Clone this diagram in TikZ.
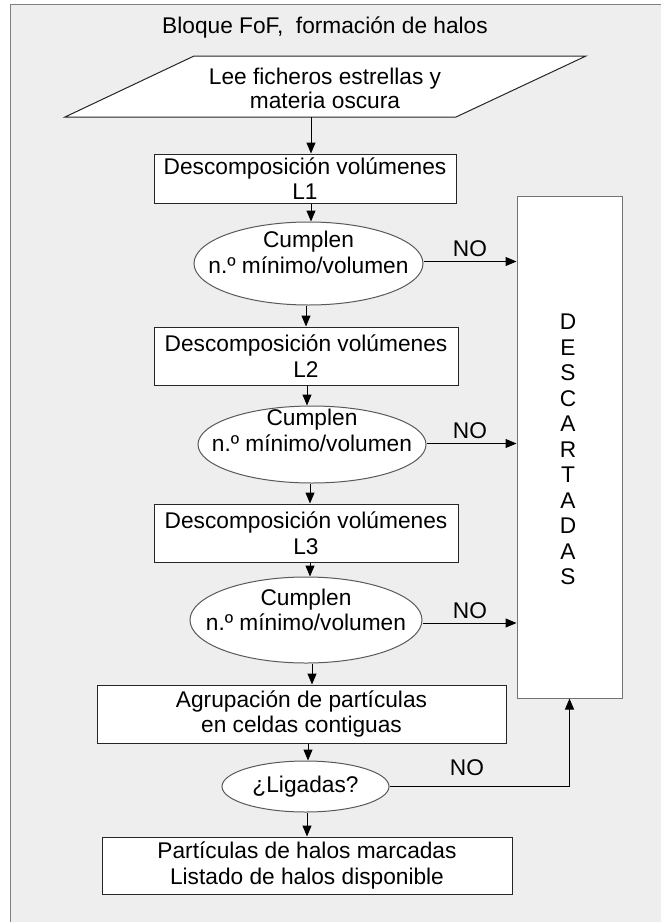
\documentclass[tikz,border=0pt]{standalone}
\usepackage{fontspec}
\setmainfont{Liberation Sans}
\usetikzlibrary{shapes.geometric,arrows.meta}
\definecolor{bg}{HTML}{EEEEEE}
\definecolor{framec}{HTML}{7F7F7F}
\begin{document}
\begin{tikzpicture}[x=1pt,y=-1pt,
  font=\fontsize{22.7}{25.5}\selectfont,
  box/.style={draw=black!85,fill=white,line width=1pt,inner sep=0pt,align=center},
  ell/.style={ellipse,draw=black!65,fill=white,line width=1pt,inner sep=0pt},
  txt/.style={inner sep=0pt,align=center},
  arr/.style={draw=black,line width=1pt,-{Triangle[length=11pt,width=9pt]}},
]
\useasboundingbox (0,0) rectangle (661,922);
\fill[white] (0,0) rectangle (661,922);
\fill[bg] (10.7,4.7) rectangle (661,922);
\draw[framec,line width=1.3pt] (10.7,922) -- (10.7,4.7) -- (661,4.7);

\node[txt] (title) at (325,27) {Bloque FoF,\ \ formación de halos};

% input parallelogram
\draw[draw=black!85,fill=white,line width=1pt] (194,56) -- (586,56) -- (456,117) -- (65,117) -- cycle;
\node[txt,font=\fontsize{22.7}{23.5}\selectfont] (lee) at (325,88.5) {Lee ficheros estrellas y\\materia oscura};
\coordinate (leeb) at (311,117);

\node[box,minimum width=302pt,minimum height=49pt] (b1) at (305,178.5) {Descomposición volúmenes\\L1};
\node[ell,minimum width=229pt,minimum height=83pt] (e1) at (308.5,263.5) {};
\node[txt] (t1) at (308.5,252.5) {Cumplen\\n.º mínimo/volumen};

\node[box,minimum width=304pt,minimum height=58pt] (b2) at (306,356) {Descomposición volúmenes\\L2};
\node[ell,minimum width=228pt,minimum height=77pt] (e2) at (312,444.5) {};
\node[txt] (t2) at (312,430.5) {Cumplen\\n.º mínimo/volumen};

\node[box,minimum width=304pt,minimum height=58pt] (b3) at (306,533) {Descomposición volúmenes\\L3};
\node[ell,minimum width=232pt,minimum height=86pt] (e3) at (306,620) {};
\node[txt] (t3) at (306,610) {Cumplen\\n.º mínimo/volumen};

\node[box,minimum width=409pt,minimum height=58pt] (b4) at (301.5,714) {Agrupación de partículas\\en celdas contiguas};
\node[ell,minimum width=167pt,minimum height=51pt] (e4) at (305.5,786.5) {¿Ligadas?};
\node[box,minimum width=410pt,minimum height=57pt] (b5) at (307,865.5) {Partículas de halos marcadas\\Listado de halos disponible};

\node[box,draw=black!55,minimum width=105pt,minimum height=502pt] (desc) at (569.5,447) {};
\node[txt] (dt) at (568,449.5) {D\\E\\S\\C\\A\\R\\T\\A\\D\\A\\S};

\node[txt] (no1) at (470,249) {NO};
\node[txt] (no2) at (470,431) {NO};
\node[txt] (no3) at (470,611) {NO};
\node[txt] (no4) at (467,768) {NO};

\coordinate (c1) at (311,0);
\coordinate (c2) at (306,0);
\coordinate (c3) at (307,0);
\coordinate (c4) at (310,0);
\coordinate (c5) at (312,0);
\coordinate (c6) at (308,0);

\draw[arr] (leeb) -- (b1.north -| leeb);
\draw[arr] (b1.south -| c1) -- (e1.north -| c1);
\draw[arr] (e1.south -| c2) -- (b2.north -| c2);
\draw[arr] (b2.south -| c3) -- (e2.north -| c3);
\draw[arr] (e2.south -| c4) -- (b3.north -| c4);
\draw[arr] (b3.south -| c4) -- (e3.north -| c4);
\draw[arr] (e3.south -| c5) -- (b4.north -| c5);
\draw[arr] (b4.south -| c6) -- (e4.north -| c6);
\draw[arr] (e4.south -| c3) -- (b5.north -| c3);

\draw[arr] ([yshift=2pt]e1.east) -- ([yshift=2pt]e1.east -| desc.west);
\draw[arr] ([yshift=1pt]e2.east) -- ([yshift=1pt]e2.east -| desc.west);
\draw[arr] ([yshift=-3pt]e3.east) -- ([yshift=-3pt]e3.east -| desc.west);
\draw[arr] (e4.east) -| (desc.south);
\end{tikzpicture}
\end{document}
